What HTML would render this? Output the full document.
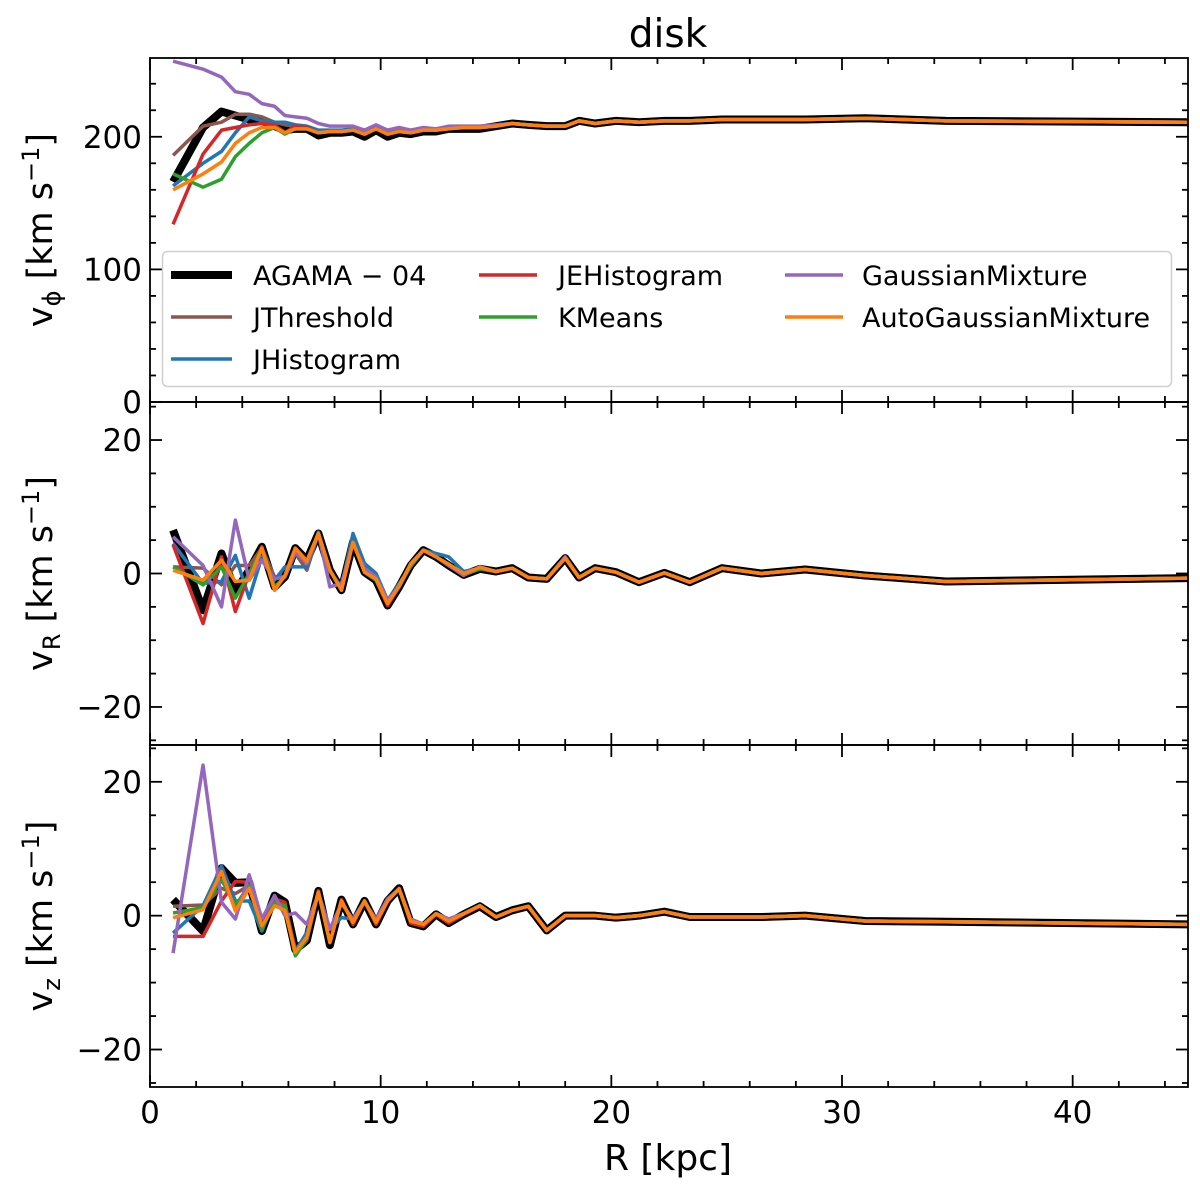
<!DOCTYPE html>
<html><head><meta charset="utf-8"><style>
html,body{margin:0;padding:0;background:#fff;}
svg{display:block;font-family:"DejaVu Sans","Liberation Sans",sans-serif;}
</style></head><body>
<svg id="chart" width="1200" height="1192" viewBox="0 0 1200 1192" xmlns="http://www.w3.org/2000/svg">
<text x="668" y="47" font-size="39" text-anchor="middle">disk</text>
</svg>
<script>
const radii = [1.0,2.3,3.1,3.7,4.3,4.85,5.4,5.85,6.3,6.8,7.3,7.8,8.3,8.8,9.3,9.8,10.3,10.8,11.3,11.85,12.4,12.95,13.6,14.3,15.0,15.7,16.4,17.2,18.0,18.6,19.3,20.2,21.2,22.3,23.4,24.8,26.5,28.4,31.0,34.5,45];
const seriesNames = ["AGAMA − 04","JThreshold","JHistogram","JEHistogram","KMeans","GaussianMixture","AutoGaussianMixture"];
const xTicks = [0,10,20,30,40];

const vphiAgama = [166,207,219,216,213,212,208,205,206,206,201,203,203,204,200,205,200,203,202,204,204,206,206,206,208,210,209,208,208,212,210,212,211,212,212,213,213,213,214,212,211];
const vphiJThreshold = [186,208,211,217,217,215,211,209,208,207,203,204,204,205,202,206,202,204,203,205,205,207,207,207,208,210,209,208,208,212,210,212,211,212,212,213,213,213,214,212,211];
const vphiJHistogram = [163,180,189,203,215,212,211,211,209,208,205,205,205,206,203,207,203,205,204,206,206,207,207,207,209,210,209,208,208,212,210,212,211,212,212,213,213,213,214,212,211];
const vphiJEHistogram = [134,187,205,207,209,210,209,203,208,207,203,204,204,205,202,206,202,204,203,205,205,206,207,207,208,210,209,208,208,212,210,212,211,212,212,213,213,213,214,212,211];
const vphiKMeans = [172,162,168,185,195,203,207,202,206,206,203,204,204,205,202,206,202,204,203,205,205,206,207,207,208,210,209,208,208,212,210,212,211,212,212,213,213,213,214,212,211];
const vphiGaussianMixture = [257,251,245,234,232,225,223,216,215,214,210,208,208,208,205,209,205,207,205,207,206,208,208,208,209,210,209,208,208,212,210,212,211,212,212,213,213,213,214,212,211];
const vphiAutoGaussianMixture = [160,172,181,195,203,207,207,203,206,206,203,204,204,205,202,206,202,204,203,205,205,206,207,207,208,210,209,208,208,212,210,212,211,212,212,213,213,213,214,212,211];

const vrAgama = [6.5,-5.5,3,-2.7,0.5,4,-2,-0.5,3.8,2,6,0.5,-2.5,4.7,0.2,-1,-4.8,-2,1.2,3.5,2.5,1.2,-0.2,0.7,0.3,0.8,-0.6,-0.8,2.3,-0.6,0.8,0.2,-1.3,0.1,-1.3,0.8,0,0.6,-0.3,-1.2,-0.7];
const vrJThreshold = [1,0.8,-1.7,1.2,1.2,3.8,-0.5,-0.5,3,0.5,6,0.5,-2.5,4.7,0.2,-1,-4.5,-2,1.2,3.5,2.5,1.2,-0.2,0.7,0.3,0.8,-0.6,-0.8,2.3,-0.6,0.8,0.2,-1.3,0.1,-1.3,0.8,0,0.6,-0.3,-1.2,-0.7];
const vrJHistogram = [4.5,-1.5,-1.2,2.7,-3.7,2.5,-1,1,1,1,6.2,0.3,-2,6,1.5,0,-4,-1.5,1,3.5,3,2.5,0.3,0.8,0.3,0.8,-0.6,-0.8,2.3,-0.6,0.8,0.2,-1.3,0.1,-1.3,0.8,0,0.6,-0.3,-1.2,-0.7];
const vrJEHistogram = [4.3,-7.5,2.5,-5.7,0,4,-2.5,-0.3,3.8,2,6,0.5,-2.5,4.7,0.2,-1,-4.8,-2,1.2,3.5,2.5,1.2,-0.2,0.7,0.3,0.8,-0.6,-0.8,2.3,-0.6,0.8,0.2,-1.3,0.1,-1.3,0.8,0,0.6,-0.3,-1.2,-0.7];
const vrKMeans = [1,-1.7,1,-3.7,0,3.8,-2,-0.5,3.5,1.8,6,0.5,-2.5,4.7,0.2,-1,-4.5,-2,1.2,3.5,2.5,1.2,-0.2,0.7,0.3,0.8,-0.6,-0.8,2.3,-0.6,0.8,0.2,-1.3,0.1,-1.3,0.8,0,0.6,-0.3,-1.2,-0.7];
const vrGaussianMixture = [5.5,1.2,-5,8,-1,2,-0.8,-0.5,3.2,1.5,6,-2,-1.5,4.5,0.8,-0.5,-4,-2,1.5,3.5,2.5,1.2,-0.3,1,0.3,0.8,-0.6,-0.8,2.5,-0.6,0.8,0.2,-1.3,0.1,-1.3,0.8,0,0.6,-0.3,-1.2,-0.7];
const vrAutoGaussianMixture = [0.5,-1,2,-1.2,-1,3.8,-2.5,-0.3,3.8,1.8,6,0.5,-2.5,4.7,0.2,-0.8,-4.5,-1.8,1.4,3.5,2.5,1.4,0,0.9,0.3,0.8,-0.6,-0.8,2.3,-0.6,0.8,0.2,-1.3,0.1,-1.3,0.8,0,0.6,-0.3,-1.2,-0.7];

const vzAgama = [2.4,-2.3,7.1,4.9,5,-2.3,3,2,-5.1,-3.7,3.7,-4.4,2.4,-1.3,2.2,-1.3,2.2,4.1,-1.1,-1.6,0.2,-1.1,0.2,1.4,-0.2,0.8,1.4,-2.2,0,0,0,-0.3,0,0.6,-0.2,-0.2,-0.2,0,-0.8,-0.9,-1.3];
const vzJThreshold = [1.4,1.6,4.1,3.3,4.5,-2,2,1.5,-5,-3.5,3.7,-4,2.2,-1,2.2,-1,2.2,4,-0.8,-1.3,0.3,-0.8,0.3,1.5,-0.2,0.8,1.4,-2.2,0,0,0,-0.3,0,0.6,-0.2,-0.2,-0.2,0,-0.8,-0.9,-1.3];
const vzJHistogram = [-2.6,1.5,7.4,2.2,2.2,-2.3,2.5,1,-5.3,-2.5,3.5,-2,-0.3,-0.5,2.2,-1,2.5,4,-0.5,-1.3,0.3,-0.5,0.3,1.5,-0.2,0.8,1.4,-2.2,0,0,0,-0.3,0,0.6,-0.2,-0.2,-0.2,0,-0.8,-0.9,-1.3];
const vzJEHistogram = [-3.1,-3.1,2.2,5.1,5,-2,2.5,2,-5.5,-3.7,3.7,-4,2.4,-1.3,2.2,-1.3,2.2,4.1,-1.1,-1.6,0.2,-1.1,0.2,1.4,-0.2,0.8,1.4,-2.2,0,0,0,-0.3,0,0.6,-0.2,-0.2,-0.2,0,-0.8,-0.9,-1.3];
const vzKMeans = [0.4,1.2,5.4,1.5,4.5,-2,2,1.5,-6,-3.5,3.5,-4,2.2,-1,2.2,-1,2.2,4,-0.8,-1.3,0.3,-0.8,0.3,1.5,-0.2,0.8,1.4,-2.2,0,0,0,-0.3,0,0.6,-0.2,-0.2,-0.2,0,-0.8,-0.9,-1.3];
const vzGaussianMixture = [-5.6,22.5,2,-0.5,6.1,-0.5,3,0,0.4,-1.3,3.2,-2,1.8,-0.5,2,-0.5,2.5,4,-0.5,-1.3,0.3,-0.5,0.3,1.5,-0.2,0.8,1.4,-2.2,0,0,0,-0.3,0,0.6,-0.2,-0.2,-0.2,0,-0.8,-0.9,-1.3];
const vzAutoGaussianMixture = [-0.3,0.9,6.6,0.7,4.1,-1.5,1.5,0.8,-5.5,-3.2,3.5,-4,2.2,-1,2.2,-1,2.2,4,-0.8,-1.3,0.3,-0.8,0.3,1.5,-0.2,0.8,1.4,-2.2,0,0,0,-0.3,0,0.6,-0.2,-0.2,-0.2,0,-0.8,-0.9,-1.3];

const NS = "http://www.w3.org/2000/svg";
const svg = document.getElementById("chart");
const X0 = 150, X1 = 1188, XMAX = 45;
function xScale(v){ return X0 + v/XMAX*(X1-X0); }
function mk(tag, attrs, parent){
  const e = document.createElementNS(NS, tag);
  for (const k in attrs) e.setAttribute(k, attrs[k]);
  (parent||svg).appendChild(e);
  return e;
}
const colors = ["#000000","#8c564b","#1f77b4","#d62728","#2ca02c","#9467bd","#ff7f0e"];
const widths = [8,3.5,3.5,3.5,3.5,3.5,3.5];
const slugs = ["agama-04","jthreshold","jhistogram","jehistogram","kmeans","gaussianmixture","autogaussianmixture"];

const panels = [
  {key:"vphi", top:58, bot:402, ymin:0, ymax:259.4, major:[0,100,200], minorStep:20, sub:"ϕ",
   data:[vphiAgama,vphiJThreshold,vphiJHistogram,vphiJEHistogram,vphiKMeans,vphiGaussianMixture,vphiAutoGaussianMixture]},
  {key:"vr", top:402, bot:745, ymin:-25.7, ymax:25.7, major:[-20,0,20], minorStep:5, sub:"R",
   data:[vrAgama,vrJThreshold,vrJHistogram,vrJEHistogram,vrKMeans,vrGaussianMixture,vrAutoGaussianMixture]},
  {key:"vz", top:745, bot:1087, ymin:-25.6, ymax:25.5, major:[-20,0,20], minorStep:5, sub:"z",
   data:[vzAgama,vzJThreshold,vzJHistogram,vzJEHistogram,vzKMeans,vzGaussianMixture,vzAutoGaussianMixture]}
];

panels.forEach((p, pi) => {
  const g = mk("g", {});
  
  
  const yScale = v => p.bot - (v - p.ymin)/(p.ymax - p.ymin)*(p.bot - p.top);
  const clipId = "clip" + pi;
  const cp = mk("clipPath", {id: clipId}, g);
  mk("rect", {x:X0, y:p.top, width:X1-X0, height:p.bot-p.top}, cp);
  const lg = mk("g", {"clip-path":"url(#"+clipId+")"}, g);
  p.data.forEach((arr, si) => {
    const pts = arr.map((v,i) => xScale(radii[i]).toFixed(2)+","+yScale(v).toFixed(2)).join(" ");
    const pl = mk("polyline", {points:pts, fill:"none", stroke:colors[si], "stroke-width":widths[si], "stroke-linejoin":"round"}, lg);
    
    
  });
  const fr = mk("rect", {x:X0, y:p.top, width:X1-X0, height:p.bot-p.top, fill:"none", stroke:"#000", "stroke-width":1.8}, g);
  
  
  for (let v = 0; v <= XMAX; v += 2) {
    const x = xScale(v);
    const len = (v % 10 === 0) ? 12 : 6;
    mk("line", {x1:x, x2:x, y1:p.bot, y2:p.bot-len, stroke:"#000", "stroke-width":1.8}, g);
    mk("line", {x1:x, x2:x, y1:p.top, y2:p.top+len, stroke:"#000", "stroke-width":1.8}, g);
  }
  const start = Math.ceil(p.ymin/p.minorStep)*p.minorStep;
  for (let v = start; v <= p.ymax; v += p.minorStep) {
    const y = yScale(v);
    const len = p.major.indexOf(v) >= 0 ? 12 : 6;
    mk("line", {x1:X0, x2:X0+len, y1:y, y2:y, stroke:"#000", "stroke-width":1.8}, g);
    mk("line", {x1:X1, x2:X1-len, y1:y, y2:y, stroke:"#000", "stroke-width":1.8}, g);
  }
  p.major.forEach(v => {
    const t = mk("text", {x:X0-8, y:yScale(v)+11, "font-size":31, "text-anchor":"end"}, g);
    t.textContent = v < 0 ? "−" + Math.abs(v) : String(v);
    
    
  });
  const cy = (p.top + p.bot)/2;
  const yt = mk("text", {x:0, y:0, "font-size":35, "text-anchor":"middle", transform:"translate(52,"+cy+") rotate(-90)"}, g);
  
  
  yt.innerHTML = 'v<tspan font-size="24" dy="8">' + p.sub + '</tspan><tspan dy="-8"> [km s</tspan><tspan font-size="24" dy="-13">−1</tspan><tspan dy="13">]</tspan>';
  if (pi === 2) {
    xTicks.forEach(v => {
      const t = mk("text", {x:xScale(v), y:1123, "font-size":31, "text-anchor":"middle"}, g);
      t.textContent = String(v);
      
      
    });
  }
});

const xt = mk("text", {x:668, y:1170, "font-size":36, "text-anchor":"middle"});
xt.textContent = "R [kpc]";



const leg = mk("g", {});


mk("rect", {x:162.5, y:251.5, width:1009, height:135, rx:5, fill:"#fff", "fill-opacity":0.85, stroke:"#d0d0d0", "stroke-width":1.5}, leg);
const legPos = [[0,0],[0,1],[0,2],[1,0],[1,1],[2,0],[2,1]];
const colX = [[171,232,253],[479,537,558],[785,843,862]];
const rowY = [275,317,359];
legPos.forEach((pos, si) => {
  const c = colX[pos[0]], y = rowY[pos[1]];
  const e = mk("g", {}, leg);
  
  
  mk("line", {x1:c[0], x2:c[1], y1:y, y2:y, stroke:colors[si], "stroke-width":widths[si]}, e);
  const t = mk("text", {x:c[2], y:y+10, "font-size":27}, e);
  t.textContent = seriesNames[si];
});
</script>
</body></html>
